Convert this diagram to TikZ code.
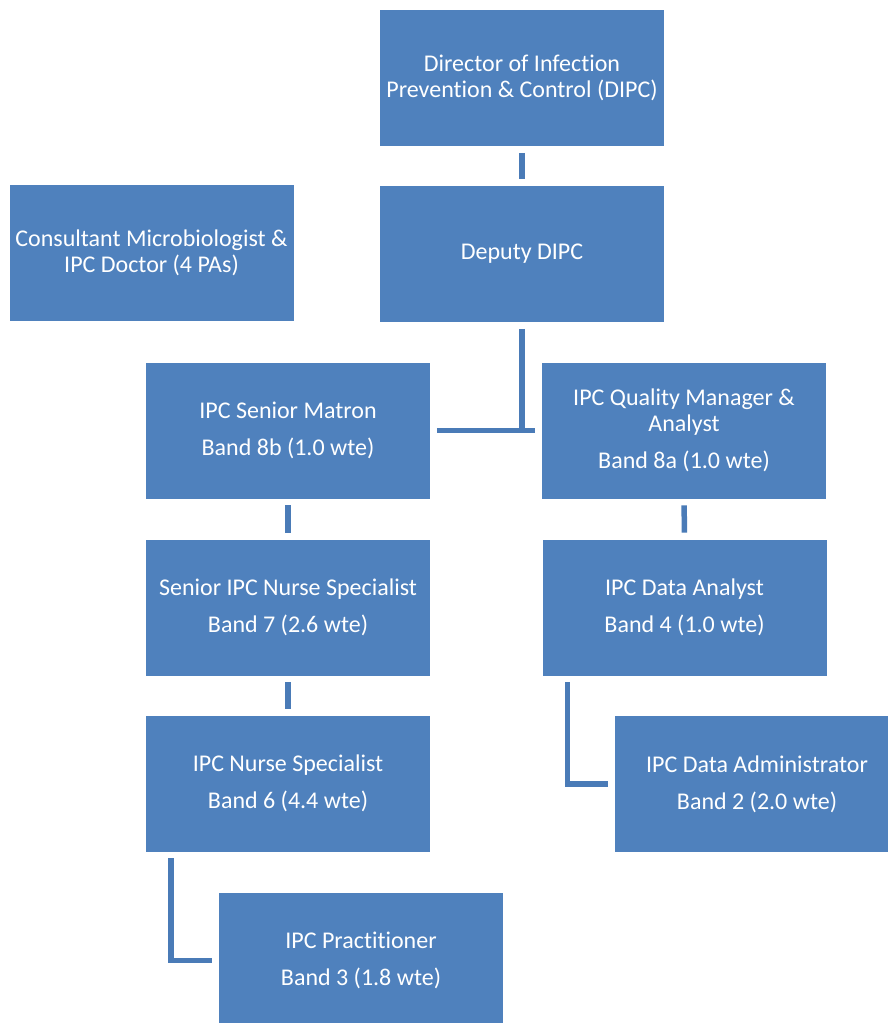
\documentclass[tikz,border=0pt]{standalone}
\usepackage{fontspec}
\setmainfont{Carlito}[Ligatures={NoCommon}]
\usepackage{xcolor}
\usepackage{tikz}
\usetikzlibrary{calc}
\definecolor{boxblue}{HTML}{4F81BD}
\definecolor{linkblue}{HTML}{4A7BB7}
\tikzset{
    box/.style={draw=white, line width=0.8pt, fill=boxblue, text=white, inner sep=0pt,
        minimum width=285pt, minimum height=137pt, align=center,
        font=\fontsize{24}{26}\selectfont},
    link/.style={draw=linkblue, line width=5.5pt, shorten <=6pt, shorten >=6pt}}

\begin{document}
\begin{tikzpicture}[x=1pt,y=-1pt]
\path[use as bounding box, clip] (0,0) rectangle (888,1023);
\node[box] (dir) at (522,78) {Director of Infection\\Prevention \& Control (DIPC)};
\node[box] (dep) at (522,254) {Deputy DIPC};
\node[box] (cons) at (151.5,252.5) {Consultant Microbiologist \&\\IPC Doctor (4 PAs)};
\node[box] (mat) at (288,430.5) {IPC Senior Matron\\[11pt]Band 8b (1.0 wte)};
\node[box] (qual) at (684,430.5) {IPC Quality Manager \&\\Analyst\\[11pt]Band 8a (1.0 wte)};
\node[box] (snr) at (288,607.5) {Senior IPC Nurse Specialist\\[11pt]Band 7 (2.6 wte)};
\node[box] (dan) at (684.5,607.5) {IPC Data Analyst\\[11pt]Band 4 (1.0 wte)};
\node[box] (nurse) at (288,783.5) {IPC Nurse Specialist\\[11pt]Band 6 (4.4 wte)};
\node[box] (adm) at (757,784) {IPC Data Administrator\\[11pt]Band 2 (2.0 wte)};
\node[box] (prac) at (361,960.5) {IPC Practitioner\\[11pt]Band 3 (1.8 wte)};

% connectors
\draw[link] (dir) -- (dep);
\coordinate (split) at (dep.south |- mat.east);
\draw[link, shorten >=-2.75pt] (dep.south) -- (split);
\draw[link] (mat.east) -- (qual.west);
\draw[link] (mat) -- (snr);
\draw[link] (snr) -- (nurse);
\draw[link] (qual) -- (dan);
\draw[link] ([xshift=26pt]dan.south west) |- (adm.west);
\draw[link] ([xshift=26pt]nurse.south west) |- (prac.west);
\end{tikzpicture}
\end{document}
